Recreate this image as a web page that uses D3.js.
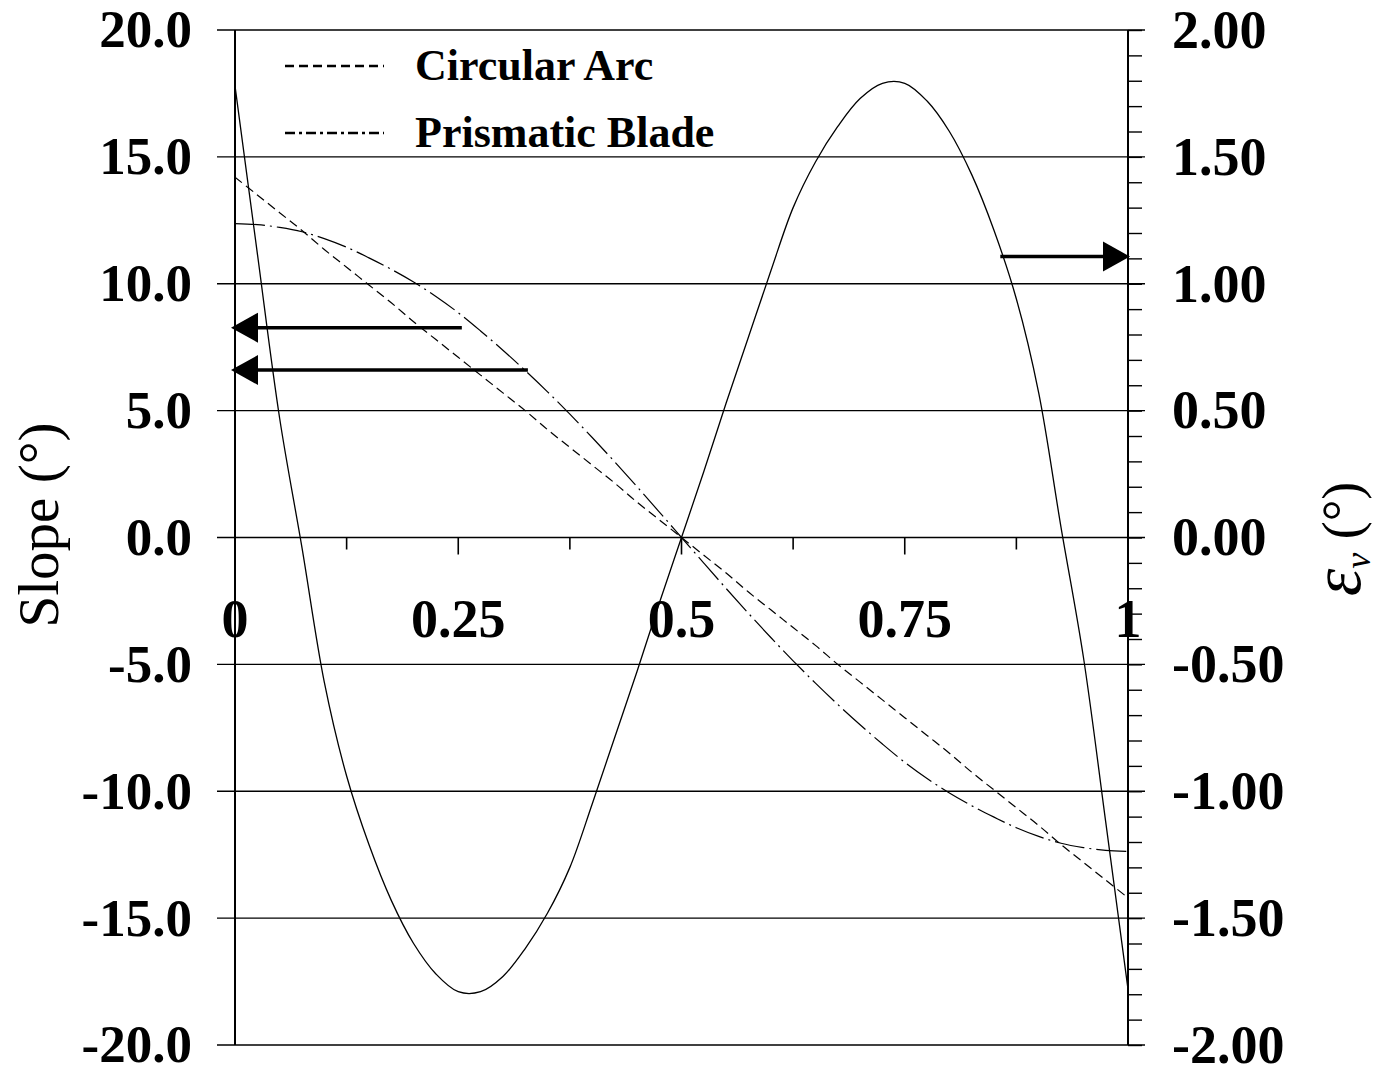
<!DOCTYPE html>
<html>
<head>
<meta charset="utf-8">
<script src="https://cdnjs.cloudflare.com/ajax/libs/d3/7.8.5/d3.min.js"></script>
<style>
  body { margin: 0; background: #fff; }
  svg { display: block; }
</style>
</head>
<body>
<script>
// position along the blade (x)
var position = [0, 0.025, 0.05, 0.075, 0.1, 0.125, 0.15, 0.175, 0.2, 0.225,
  0.25, 0.275, 0.3, 0.325, 0.35, 0.375, 0.4, 0.425, 0.45, 0.475,
  0.5, 0.525, 0.55, 0.575, 0.6, 0.625, 0.65, 0.675, 0.7, 0.725,
  0.75, 0.775, 0.8, 0.825, 0.85, 0.875, 0.9, 0.925, 0.95, 0.975, 1];

// slope, circular arc (left axis)
var circularArc = [14.2, 13.5, 12.8, 12.1, 11.35, 10.65, 9.95, 9.25, 8.5, 7.8,
  7.1, 6.4, 5.7, 5.0, 4.25, 3.55, 2.85, 2.15, 1.4, 0.7,
  0, -0.7, -1.4, -2.15, -2.85, -3.55, -4.25, -5.0, -5.7, -6.4,
  -7.1, -7.8, -8.5, -9.25, -9.95, -10.65, -11.35, -12.1, -12.8, -13.5, -14.2];

// slope, prismatic blade (left axis)
var prismaticBlade = [12.37, 12.33, 12.22, 12.05, 11.78, 11.44, 11.02, 10.57, 10.07, 9.5,
  8.86, 8.14, 7.38, 6.58, 5.74, 4.86, 3.94, 2.99, 2.01, 1.01,
  0, -1.01, -2.01, -2.99, -3.94, -4.86, -5.74, -6.58, -7.38, -8.14,
  -8.86, -9.5, -10.07, -10.57, -11.02, -11.44, -11.78, -12.05, -12.22, -12.33, -12.37];

// epsilon_v (right axis)
var epsilonV = [1.78, 1.12, 0.47, -0.04, -0.57, -0.94, -1.21, -1.43, -1.60, -1.72,
  -1.79, -1.79, -1.73, -1.62, -1.48, -1.30, -1.05, -0.79, -0.53, -0.26,
  0, 0.26, 0.53, 0.79, 1.05, 1.30, 1.48, 1.62, 1.73, 1.79,
  1.79, 1.72, 1.60, 1.43, 1.21, 0.94, 0.57, 0.04, -0.47, -1.12, -1.78];

var leftTicks = [-20, -15, -10, -5, 0, 5, 10, 15, 20];
var rightTicks = [-2, -1.5, -1, -0.5, 0, 0.5, 1, 1.5, 2];
var xTicks = [0, 0.125, 0.25, 0.375, 0.5, 0.625, 0.75, 0.875, 1];
var xLabels = [0, 0.25, 0.5, 0.75, 1];

// arrows: start point (x, value) pointing to an axis
var leftArrows = [{ x: 0.254, v: 8.27 }, { x: 0.328, v: 6.6 }];
var rightArrows = [{ x: 0.857, v: 1.107 }];

var width = 1380,
  height = 1068;

var svg = d3.select("body").append("svg").attr("width", width).attr("height", height);

var x = d3.scaleLinear().domain([0, 1]).range([235, 1128]);
var yL = d3.scaleLinear().domain([-20, 20]).range([1045, 30]);
var yR = d3.scaleLinear().domain([-2, 2]).range([1045, 30]);

var serif = "'Liberation Serif', 'Times New Roman', serif";

// gridlines (they also act as the outer ticks)
svg.append("g")
  .selectAll("line")
  .data(leftTicks)
  .join("line")
  .attr("x1", x(0) - 18)
  .attr("x2", x(1) + 17)
  .attr("y1", function (d) { return yL(d); })
  .attr("y2", function (d) { return yL(d); })
  .attr("stroke", "#000")
  .attr("stroke-width", 1.4);

// left axis
var leftAxis = svg.append("g")
  .attr("transform", "translate(" + x(0) + ",0)")
  .call(d3.axisLeft(yL).tickValues(leftTicks).tickSize(0).tickPadding(43)
    .tickFormat(function (d) { return d.toFixed(1); }));
leftAxis.select(".domain").remove();
leftAxis.selectAll("text")
  .attr("font-family", serif)
  .attr("font-weight", "bold")
  .attr("font-size", 53)
  .attr("dy", "0.32em");

// right axis, minor ticks
var minorR = d3.range(-20, 21).map(function (d) { return d / 10; });
var rightMinor = svg.append("g")
  .attr("transform", "translate(" + x(1) + ",0)")
  .call(d3.axisRight(yR).tickValues(minorR).tickSize(14).tickFormat(""));
rightMinor.select(".domain").remove();
rightMinor.selectAll("line").attr("stroke-width", 1.4);

var rightAxis = svg.append("g")
  .attr("transform", "translate(" + x(1) + ",0)")
  .call(d3.axisRight(yR).tickValues(rightTicks).tickSize(0).tickPadding(44)
    .tickFormat(function (d) { return d.toFixed(2); }));
rightAxis.select(".domain").remove();
rightAxis.selectAll("text")
  .attr("font-family", serif)
  .attr("font-weight", "bold")
  .attr("font-size", 54)
  .attr("dy", "0.32em");

// x axis ticks on the zero line
svg.append("g")
  .selectAll("line")
  .data(xTicks)
  .join("line")
  .attr("x1", function (d) { return x(d); })
  .attr("x2", function (d) { return x(d); })
  .attr("y1", yL(0))
  .attr("y2", function (d, i) { return yL(0) + (i % 2 ? 12 : 17); })
  .attr("stroke", "#000")
  .attr("stroke-width", 1.6);

svg.append("g")
  .selectAll("text")
  .data(xLabels)
  .join("text")
  .attr("x", function (d) { return x(d); })
  .attr("y", 637)
  .attr("text-anchor", "middle")
  .attr("font-family", serif)
  .attr("font-weight", "bold")
  .attr("font-size", 54)
  .text(function (d) { return String(d); });

// vertical axis lines
svg.append("line").attr("x1", x(0)).attr("x2", x(0)).attr("y1", yL(20)).attr("y2", yL(-20))
  .attr("stroke", "#000").attr("stroke-width", 2);
svg.append("line").attr("x1", x(1)).attr("x2", x(1)).attr("y1", yL(20)).attr("y2", yL(-20))
  .attr("stroke", "#000").attr("stroke-width", 2);

// curves
var lineL = d3.line()
  .x(function (d) { return x(d[0]); })
  .y(function (d) { return yL(d[1]); })
  .curve(d3.curveCatmullRom);
var lineR = d3.line()
  .x(function (d) { return x(d[0]); })
  .y(function (d) { return yR(d[1]); })
  .curve(d3.curveCatmullRom);

function pairs(vals) {
  return position.map(function (p, i) { return [p, vals[i]]; });
}

svg.append("path")
  .attr("d", lineR(pairs(epsilonV)))
  .attr("fill", "none")
  .attr("stroke", "#000")
  .attr("stroke-width", 1.3);

svg.append("path")
  .attr("d", lineL(pairs(circularArc)))
  .attr("fill", "none")
  .attr("stroke", "#000")
  .attr("stroke-width", 1.2)
  .attr("stroke-dasharray", "9,5");

svg.append("path")
  .attr("d", lineL(pairs(prismaticBlade)))
  .attr("fill", "none")
  .attr("stroke", "#000")
  .attr("stroke-width", 1.2)
  .attr("stroke-dasharray", "30,5,2,5");

// arrows
var head = 27,
  half = 15;
svg.append("g")
  .selectAll("g")
  .data(leftArrows)
  .join("g")
  .each(function (d) {
    var g = d3.select(this),
      yy = yL(d.v),
      tip = x(0) - 4;
    g.append("line")
      .attr("x1", x(d.x)).attr("x2", tip + head).attr("y1", yy).attr("y2", yy)
      .attr("stroke", "#000").attr("stroke-width", 3.5);
    g.append("path")
      .attr("d", "M" + tip + "," + yy + "L" + (tip + head) + "," + (yy - half) +
        "L" + (tip + head) + "," + (yy + half) + "Z")
      .attr("fill", "#000");
  });

svg.append("g")
  .selectAll("g")
  .data(rightArrows)
  .join("g")
  .each(function (d) {
    var g = d3.select(this),
      yy = yR(d.v),
      tip = x(1) + 2;
    g.append("line")
      .attr("x1", x(d.x)).attr("x2", tip - head).attr("y1", yy).attr("y2", yy)
      .attr("stroke", "#000").attr("stroke-width", 3.5);
    g.append("path")
      .attr("d", "M" + tip + "," + yy + "L" + (tip - head) + "," + (yy - half) +
        "L" + (tip - head) + "," + (yy + half) + "Z")
      .attr("fill", "#000");
  });

// legend
var legend = [
  { name: "Circular Arc", dash: "9,5", y: 66 },
  { name: "Prismatic Blade", dash: "10,4,3,4", y: 133 }
];
var lg = svg.append("g")
  .selectAll("g")
  .data(legend)
  .join("g");
lg.append("line")
  .attr("x1", 285).attr("x2", 384)
  .attr("y1", function (d) { return d.y; })
  .attr("y2", function (d) { return d.y; })
  .attr("stroke", "#000")
  .attr("stroke-width", 2.5)
  .attr("stroke-dasharray", function (d) { return d.dash; });
lg.append("text")
  .attr("x", 415)
  .attr("y", function (d) { return d.y + 14; })
  .attr("font-family", serif)
  .attr("font-weight", "bold")
  .attr("font-size", 44)
  .text(function (d) { return d.name; });

// axis titles
svg.append("text")
  .attr("transform", "translate(58,525) rotate(-90)")
  .attr("text-anchor", "middle")
  .attr("font-family", serif)
  .attr("font-size", 57)
  .text("Slope (°)");

var rt = svg.append("text")
  .attr("transform", "translate(1360,539) rotate(-90)")
  .attr("text-anchor", "middle")
  .attr("font-family", serif)
  .attr("font-size", 54);
rt.append("tspan").attr("font-style", "italic").attr("font-size", 70).text("ε");
rt.append("tspan").attr("font-style", "italic").attr("font-size", 36).attr("dy", 10).text("v");
rt.append("tspan").attr("dy", -10).text(" (°)");
</script>
</body>
</html>
